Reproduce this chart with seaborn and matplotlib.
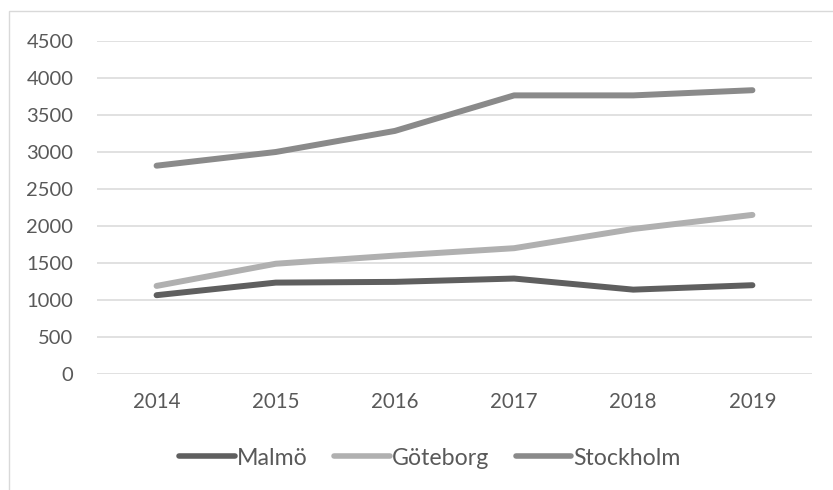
import matplotlib
matplotlib.use("Agg")
import matplotlib.pyplot as plt
import seaborn as sns
import pandas as pd
from matplotlib.patches import Rectangle
from matplotlib.lines import Line2D

years = ["2014", "2015", "2016", "2017", "2018", "2019"]
malmo = [1065, 1235, 1245, 1290, 1140, 1200]
goteborg = [1190, 1490, 1600, 1700, 1960, 2150]
stockholm = [2815, 3000, 3285, 3765, 3765, 3835]
series_names = ["Malmö", "Göteborg", "Stockholm"]
y_ticks = [0, 500, 1000, 1500, 2000, 2500, 3000, 3500, 4000, 4500]

rows = []
for name, vals in zip(series_names, [malmo, goteborg, stockholm]):
    for yr, v in zip(years, vals):
        rows.append({"År": yr, "Värde": v, "Stad": name})
df = pd.DataFrame(rows)

sns.set_theme(style="white")
plt.rcParams["font.family"] = ["Lato", "DejaVu Sans"]

fig = plt.figure(figsize=(8.33, 4.9), dpi=100)
ax = fig.add_axes([97/833, 1-374/490, (812-97)/833, (374-41)/490])

palette = {"Malmö": "#5f5f5f", "Göteborg": "#b0b0b0", "Stockholm": "#8a8a8a"}
sns.lineplot(data=df, x="År", y="Värde", hue="Stad", palette=palette, sort=False,
             linewidth=4.3, ax=ax, legend=False)
for line in ax.get_lines():
    line.set_solid_capstyle("round")
    line.set_solid_joinstyle("round")

ax.set_xlim(-0.5, len(years) - 0.5)
ax.set_ylim(0, 4500)
ax.set_yticks(y_ticks)
ax.set_xlabel("")
ax.set_ylabel("")
for s in ax.spines.values():
    s.set_visible(False)
ax.grid(axis="y", color="#d9d9d9", linewidth=1.1)
ax.grid(axis="x", visible=False)
ax.set_axisbelow(True)
ax.tick_params(axis="y", length=0, pad=17, labelsize=14.5, labelcolor="#595959")
ax.tick_params(axis="x", length=0, pad=13, labelsize=14.8, labelcolor="#595959")

handles = [Line2D([0], [0], color=palette[n], lw=4.0, solid_capstyle="round") for n in series_names]
fig.legend(handles, series_names, loc="center", bbox_to_anchor=(430/833, 1-458/490),
           ncol=3, frameon=False, handlelength=2.4, handletextpad=0.08,
           columnspacing=1.15, fontsize=16.7, labelcolor="#595959")

fig.patches.append(Rectangle((9/833, -0.01), 1.0, 1-11/490+0.01, transform=fig.transFigure,
                             fill=False, edgecolor="#d9d9d9", linewidth=1.0))

fig.savefig("out.png", dpi=100)
